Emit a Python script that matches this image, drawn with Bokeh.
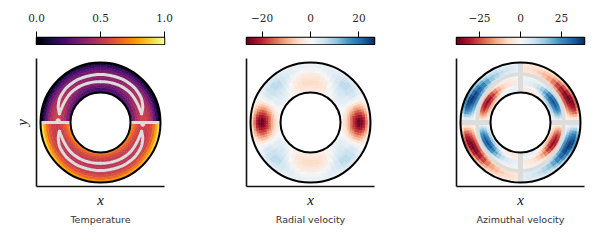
import numpy as np
from bokeh.embed import file_html
from bokeh.resources import INLINE
from bokeh.plotting import figure
from bokeh.layouts import row, column
from bokeh.models import (ColumnDataSource, FixedTicker, LinearColorMapper, Range1d, Title)
from bokeh.palettes import Inferno256

# ---- data -----------------------------------------------------------------
radii = [.521, .562, .604, .646, .688, .729, .771, .812, .854, .896, .938, .979]
phis_t = [3, 9, 15, 21, 27, 33, 39, 45, 51, 57, 63, 69, 75, 81, 87]
widths_t = [6] * 15
phis_v = [1.5, 4.5, 7.5, 10.5, 13.5, 16.5, 19.5, 22.5, 25.5, 28.5, 33, 39, 45, 51, 57, 63, 69, 75, 81, 87]
widths_v = [3] * 10 + [6] * 10

temp_upper = [
    [.28, .28, .27, .26, .25, .24, .23, .22, .21, .21, .20, .20, .20, .19, .19],
    [.37, .36, .35, .33, .32, .30, .29, .27, .26, .25, .24, .24, .23, .23, .23],
    [.45, .44, .43, .41, .39, .37, .35, .33, .32, .31, .30, .29, .29, .28, .28],
    [.51, .50, .49, .47, .45, .42, .40, .38, .37, .35, .34, .33, .33, .33, .33],
    [.54, .54, .52, .51, .49, .46, .44, .42, .41, .39, .38, .37, .37, .36, .36],
    [.55, .55, .54, .52, .50, .48, .46, .44, .43, .41, .40, .39, .39, .38, .38],
    [.54, .53, .52, .50, .48, .46, .44, .42, .41, .40, .39, .38, .38, .37, .37],
    [.50, .49, .48, .46, .45, .43, .41, .40, .39, .38, .37, .37, .36, .36, .36],
    [.43, .42, .41, .40, .39, .38, .36, .35, .34, .34, .33, .32, .32, .32, .32],
    [.32, .32, .31, .31, .30, .30, .29, .29, .28, .28, .27, .27, .27, .27, .27],
    [.19, .19, .19, .19, .19, .19, .19, .19, .20, .20, .20, .20, .20, .20, .20],
    [.05, .05, .05, .05, .06, .06, .07, .08, .08, .09, .09, .10, .10, .10, .10],
]
temp_lower = [
    [.78, .78, .77, .76, .75, .74, .74, .73, .73, .72, .72, .72, .72, .72, .72],
    [.68, .68, .67, .66, .65, .64, .64, .63, .63, .63, .63, .62, .62, .62, .62],
    [.61, .61, .60, .59, .58, .58, .57, .57, .56, .56, .56, .56, .56, .56, .56],
    [.57, .56, .55, .55, .54, .54, .54, .53, .53, .53, .53, .53, .52, .52, .52],
    [.54, .54, .53, .53, .53, .52, .52, .52, .51, .51, .51, .51, .51, .51, .51],
    [.53, .53, .52, .52, .52, .51, .51, .51, .50, .50, .50, .50, .50, .50, .50],
    [.53, .53, .52, .52, .52, .51, .51, .50, .50, .50, .50, .50, .50, .50, .50],
    [.55, .55, .54, .54, .53, .53, .52, .52, .51, .51, .51, .51, .51, .51, .51],
    [.60, .60, .59, .58, .57, .56, .56, .55, .54, .54, .54, .53, .53, .53, .53],
    [.68, .68, .67, .66, .65, .64, .63, .62, .61, .60, .60, .59, .59, .59, .59],
    [.80, .80, .79, .78, .76, .75, .73, .71, .70, .69, .68, .67, .66, .66, .66],
    [.94, .93, .92, .90, .88, .86, .85, .83, .81, .79, .78, .77, .76, .76, .76],
]
radial_quarter = [
    [-1, -1, -1, -1, -1, 0, 0, 0, 0, 0, 1, 1, 1, 0, 0, 0, -1, -1, -2, -2],
    [-3, -3, -3, -2, -2, -1, 0, 0, 1, 1, 2, 2, 2, 1, 0, -1, -2, -3, -3, -3],
    [-6, -6, -5, -4, -3, -2, -1, 0, 1, 2, 3, 3, 3, 2, 0, -1, -3, -4, -4, -4],
    [-10, -10, -9, -8, -6, -5, -3, -1, 1, 2, 3, 4, 4, 3, 1, -1, -3, -4, -5, -5],
    [-15, -15, -14, -12, -10, -7, -5, -3, 0, 2, 3, 4, 5, 4, 2, 0, -2, -4, -5, -5],
    [-20, -19, -18, -15, -12, -9, -6, -3, -1, 1, 3, 5, 5, 5, 3, 0, -2, -3, -4, -4],
    [-24, -23, -21, -18, -15, -11, -8, -4, -1, 2, 4, 6, 6, 6, 4, 2, -1, -2, -3, -3],
    [-26, -25, -22, -19, -16, -12, -8, -4, -1, 2, 5, 6, 7, 7, 5, 3, 1, -1, -2, -2],
    [-25, -24, -21, -18, -15, -11, -8, -4, -1, 2, 5, 6, 7, 7, 5, 4, 2, 1, 0, -1],
    [-21, -20, -18, -15, -12, -9, -6, -3, -1, 2, 4, 6, 7, 6, 5, 4, 3, 2, 1, 1],
    [-14, -13, -12, -10, -8, -6, -4, -2, 0, 1, 3, 5, 5, 5, 4, 3, 3, 2, 2, 2],
    [-6, -6, -5, -4, -3, -2, -1, 0, 0, 1, 2, 3, 3, 3, 3, 2, 2, 2, 2, 1],
]
azimuthal_quarter = [
    [0, -1, -1, -2, -2, -2, -3, -4, -4, -5, -5, -4, -2, -1, 1, 3, 4, 5, 5, 4],
    [-1, -2, -4, -6, -8, -10, -12, -13, -14, -15, -15, -13, -10, -6, -2, 2, 3, 4, 4, 3],
    [-1, -4, -8, -12, -16, -19, -22, -24, -26, -27, -28, -26, -21, -15, -9, -4, -1, 1, 2, 2],
    [-1, -5, -10, -15, -20, -24, -28, -31, -33, -34, -35, -33, -28, -21, -15, -10, -7, -5, -4, -3],
    [-1, -4, -9, -13, -18, -22, -25, -27, -29, -30, -30, -28, -24, -18, -13, -9, -7, -5, -4, -3],
    [0, -2, -4, -6, -9, -11, -13, -14, -15, -15, -14, -12, -10, -7, -5, -4, -3, -3, -2, -2],
    [0, 1, 2, 4, 5, 7, 8, 9, 10, 10, 10, 9, 7, 5, 3, 2, 2, 2, 2, 1],
    [1, 3, 7, 11, 15, 18, 21, 23, 24, 24, 23, 20, 16, 12, 8, 6, 5, 4, 3, 2],
    [1, 5, 11, 17, 22, 26, 29, 32, 33, 34, 33, 30, 26, 20, 15, 11, 8, 6, 5, 4],
    [1, 6, 13, 21, 27, 31, 34, 37, 38, 38, 36, 32, 27, 21, 16, 13, 10, 8, 6, 5],
    [1, 6, 14, 23, 29, 33, 36, 37, 36, 34, 30, 25, 20, 15, 11, 10, 8, 7, 6, 5],
    [1, 3, 8, 14, 19, 23, 25, 25, 24, 22, 18, 14, 10, 8, 6, 6, 5, 4, 4, 3],
]
# grey streak paths in polar form (angle from the horizontal, radius)
streak_phi = [12, 20, 30, 45, 60, 75, 90]
streak_outer_r = [.70, .75, .79, .81, .81, .80, .80]
streak_inner_r = [.70, .69, .69, .70, .695, .685, .68]
mid_ring_phi = [0, 15, 30, 45, 60, 75, 90]
mid_ring_r = [.72, .73, .75, .76, .78, .80, .81]

RING_INNER = 0.5
RING_OUTER = 1.0
titles = ["Temperature", "Radial velocity", "Azimuthal velocity"]
cb_lims = [(0, 1), (-26.4, 26.4), (-39, 39)]
cb_ticks = [[0, 0.5, 1], [-20, 0, 20], [-25, 0, 25]]
cb_labels = [["0.0", "0.5", "1.0"], ["\u221220", "0", "20"], ["\u221225", "0", "25"]]
RdBu_stops = ["#67001f", "#b2182b", "#d6604d", "#f4a582", "#fddbc7", "#f7f7f7",
              "#d1e5f0", "#92c5de", "#4393c3", "#2166ac", "#053061"]
GREY = "#dcdcdc"


def hex_rgb(c):
    return [int(c[i:i + 2], 16) for i in (1, 3, 5)]


def smooth_palette(stops, n=256):
    rgb = np.array([hex_rgb(c) for c in stops], dtype=float)
    pos = np.linspace(0, 1, len(stops))
    t = np.linspace(0, 1, n)
    chans = [np.interp(t, pos, rgb[:, k]).round().astype(int) for k in range(3)]
    return ["#%02x%02x%02x" % (a, b, c) for a, b, c in zip(*chans)]


RdBu256 = smooth_palette(RdBu_stops)
palettes = [list(Inferno256), RdBu256, RdBu256]


def pick(pal, low, high, v):
    i = int(np.clip((v - low) / (high - low) * 255, 0, 255))
    return pal[i]


def cells(tl, tr, bl, br, phis, widths, pal, low, high, grey_below=None):
    out = dict(r0=[], r1=[], a0=[], a1=[], color=[])
    dr = (RING_OUTER - RING_INNER) / len(radii)
    for tab, mapper in ((tl, lambda p: 180 - p), (tr, lambda p: p),
                        (bl, lambda p: 180 + p), (br, lambda p: 360 - p)):
        for i, r in enumerate(radii):
            for j, ph in enumerate(phis):
                th = mapper(ph)
                v = tab[i][j]
                dp = widths[j] / 2
                out["r0"].append(r - dr / 2)
                out["r1"].append(r + dr / 2)
                out["a0"].append(np.deg2rad(th - dp))
                out["a1"].append(np.deg2rad(th + dp))
                if grey_below is not None and abs(v) <= grey_below:
                    out["color"].append(GREY)
                else:
                    out["color"].append(pick(pal, low, high, v))
    return out


neg = lambda t: [[-v for v in line] for line in t]


def polar_line(phi, r, sx, sy):
    a = np.deg2rad(np.array(phi, dtype=float))
    rr = np.array(r, dtype=float)
    aa = np.deg2rad(np.arange(phi[0], phi[-1] + 0.5, 2.0))
    ra = np.interp(aa, a, rr)
    return sx * ra * np.cos(aa), sy * ra * np.sin(aa)


def colorbar_fig(k, left, right):
    p = figure(width=left + 128 + right, height=45, output_backend="svg", toolbar_location=None,
               x_range=Range1d(*cb_lims[k]), y_range=Range1d(0, 1),
               x_axis_location="above",
               min_border_left=left, min_border_right=right, min_border_top=37, min_border_bottom=1)
    low, high = cb_lims[k]
    mapper = LinearColorMapper(palette=palettes[k], low=low, high=high)
    grad = np.linspace(low, high, 256).reshape(1, -1)
    p.image(image=[grad], x=low, y=0, dw=high - low, dh=1, color_mapper=mapper)
    p.yaxis.visible = False
    p.grid.visible = False
    ax = p.xaxis[0]
    ax.ticker = FixedTicker(ticks=cb_ticks[k])
    ax.major_label_overrides = {t: l for t, l in zip(cb_ticks[k], cb_labels[k])}
    ax.major_tick_out = 6
    ax.major_tick_in = 0
    ax.major_tick_line_color = "black"
    ax.major_tick_line_width = 1
    ax.minor_tick_line_color = None
    ax.axis_line_color = None
    ax.major_label_text_font = "DejaVu Serif"
    ax.major_label_text_font_size = "10.5px"
    ax.major_label_text_color = "#262626"
    ax.major_label_standoff = 10
    p.outline_line_color = "black"
    p.outline_line_width = 1.5
    p.outline_line_alpha = 1
    p.background_fill_color = None
    return p


def ring_fig(k, left, right, data):
    p = figure(width=left + 128 + right, height=188, output_backend="svg", toolbar_location=None,
               x_range=Range1d(-64 / 60, 64 / 60), y_range=Range1d(-64 / 60, 64 / 60),
               min_border_left=left, min_border_right=right, min_border_top=13, min_border_bottom=47)
    p.grid.visible = False
    p.outline_line_color = None
    src = ColumnDataSource(data)
    p.annular_wedge(x=0, y=0, inner_radius="r0", outer_radius="r1", start_angle="a0", end_angle="a1",
                    source=src, fill_color="color", line_color="color", line_width=0.5)
    for ax in (p.xaxis[0], p.yaxis[0]):
        ax.ticker = FixedTicker(ticks=[])
        ax.major_tick_line_color = None
        ax.minor_tick_line_color = None
        ax.axis_line_color = "#111111"
        ax.axis_line_width = 1.6
    p.xaxis[0].axis_label = "x"
    p.xaxis[0].axis_label_text_font = "Liberation Serif"
    p.xaxis[0].axis_label_text_font_style = "italic"
    p.xaxis[0].axis_label_text_font_size = "15px"
    p.xaxis[0].axis_label_standoff = 5
    p.xaxis[0].axis_label_text_color = "#111111"
    if k == 0:
        p.yaxis[0].axis_label = "y"
        p.yaxis[0].axis_label_text_font = "Liberation Serif"
        p.yaxis[0].axis_label_text_font_style = "italic"
        p.yaxis[0].axis_label_text_font_size = "15px"
        p.yaxis[0].axis_label_standoff = 7
        p.yaxis[0].axis_label_text_color = "#111111"
    p.add_layout(Title(text=titles[k], align="center", text_font="DejaVu Sans", text_font_size="9.5px",
                       text_font_style="normal", text_color="#333333", standoff=3), "below")
    return p


def outlines(p):
    p.circle(x=[0, 0], y=[0, 0], radius=[RING_INNER, RING_OUTER], fill_color=None,
             line_color="black", line_width=2)


# panel 1: temperature
d0 = cells(temp_upper, temp_upper, temp_lower, temp_lower, phis_t, widths_t, palettes[0], 0, 1)
p0 = ring_fig(0, 36, 46, d0)
for sx in (-1, 1):
    for sy in (-1, 1):
        for rr in (streak_outer_r, streak_inner_r):
            x, y = polar_line(streak_phi, rr, sx, sy)
            p0.line(x, y, line_color=GREY, line_width=3, line_cap="round")
    p0.segment(x0=[sx * RING_INNER], y0=[0], x1=[sx * RING_OUTER], y1=[0], line_color=GREY, line_width=3)
p0.scatter(x=[-.705, .705], y=[.03, -.03], size=4, color=GREY)
outlines(p0)

# panel 2: radial velocity
d1 = cells(radial_quarter, radial_quarter, radial_quarter, radial_quarter, phis_v, widths_v,
           palettes[1], -26.4, 26.4)
p1 = ring_fig(1, 36, 46, d1)
outlines(p1)

# panel 3: azimuthal velocity
d2 = cells(azimuthal_quarter, neg(azimuthal_quarter), neg(azimuthal_quarter), azimuthal_quarter,
           phis_v, widths_v, palettes[2], -39, 39, grey_below=0.5)
p2 = ring_fig(2, 36, 6, d2)
for sx in (-1, 1):
    for sy in (-1, 1):
        x, y = polar_line(mid_ring_phi, mid_ring_r, sx, sy)
        p2.line(x, y, line_color=GREY, line_width=3.5)
    p2.segment(x0=[sx * RING_INNER], y0=[0], x1=[sx * RING_OUTER], y1=[0], line_color=GREY, line_width=5)
    p2.segment(x0=[0], y0=[sx * RING_INNER], x1=[0], y1=[sx * RING_OUTER], line_color=GREY, line_width=5)
outlines(p2)

panels = [column(colorbar_fig(0, 36, 46), p0, spacing=0),
          column(colorbar_fig(1, 36, 46), p1, spacing=0),
          column(colorbar_fig(2, 36, 6), p2, spacing=0)]
layout = row(*panels, spacing=0)
open("out.html", "w").write(file_html(layout, INLINE))
